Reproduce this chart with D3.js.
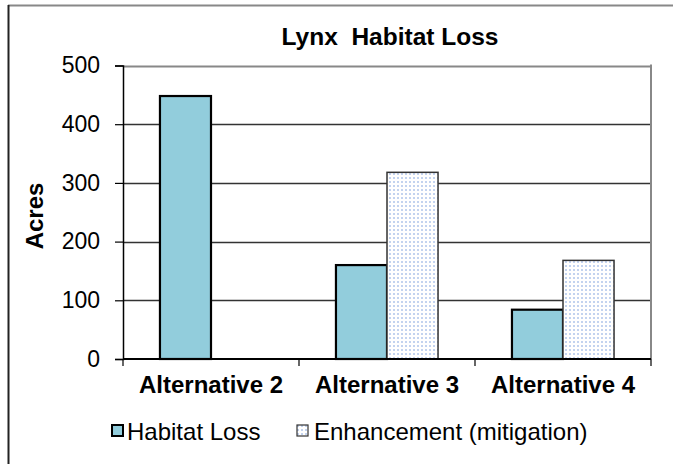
<!DOCTYPE html>
<html><head><meta charset="utf-8">
<script src="https://cdn.jsdelivr.net/npm/d3@7"></script>
<style>body{margin:0;background:#fff}svg{display:block;font-family:Arial,"Liberation Sans",sans-serif}</style>
</head><body><svg id="c" width="673" height="464"></svg>
<script>
const categories = ["Alternative 2", "Alternative 3", "Alternative 4"];
const seriesNames = ["Habitat Loss", "Enhancement (mitigation)"];
const habitatLoss = [448, 160, 84];
const enhancement = [null, 318, 168];
const yTicks = [0, 100, 200, 300, 400, 500];

const svg = d3.select("#c");
const W = 673, H = 464;
const m = {left: 123, right: 651, top: 65.5, bottom: 359};

// outer frame (cropped: top + left only)
svg.append("line").attr("x1", 8).attr("x2", W).attr("y1", 5.5).attr("y2", 5.5).attr("stroke", "#888").attr("stroke-width", 2);
svg.append("line").attr("x1", 8.5).attr("x2", 8.5).attr("y1", 5).attr("y2", H).attr("stroke", "#222").attr("stroke-width", 2);

const defs = svg.append("defs");
const pat = defs.append("pattern").attr("id", "dots").attr("patternUnits", "userSpaceOnUse").attr("width", 4).attr("height", 4);
pat.append("rect").attr("width", 4).attr("height", 4).attr("fill", "#fff");
pat.append("rect").attr("x", 1).attr("y", 1).attr("width", 2).attr("height", 2).attr("fill", "#c3d3ef");

const x0 = d3.scaleBand().domain(categories).range([m.left, m.right]).paddingInner(0.42).paddingOuter(0.21);
const x1 = d3.scaleBand().domain(seriesNames).range([0, x0.bandwidth()]);
const y = d3.scaleLinear().domain([0, 500]).range([m.bottom, m.top]);

// gridlines
svg.append("g").selectAll("line").data(yTicks.filter(d => d > 0)).join("line")
  .attr("x1", m.left).attr("x2", m.right)
  .attr("y1", d => Math.round(y(d)) + 0.5).attr("y2", d => Math.round(y(d)) + 0.5)
  .attr("stroke", d => d === 500 ? "#888" : "#333").attr("stroke-width", d => d === 500 ? 2 : 1.5);
// right plot border
svg.append("line").attr("x1", m.right).attr("x2", m.right).attr("y1", m.top - 1).attr("y2", m.bottom)
  .attr("stroke", "#888").attr("stroke-width", 2);

// bars
const data = [];
categories.forEach((c, i) => {
  data.push({c, s: seriesNames[0], v: habitatLoss[i]});
  if (enhancement[i] != null) data.push({c, s: seriesNames[1], v: enhancement[i]});
});
svg.append("g").selectAll("rect").data(data).join("rect")
  .attr("x", d => x0(d.c) + x1(d.s))
  .attr("y", d => y(d.v))
  .attr("width", x1.bandwidth())
  .attr("height", d => y(0) - y(d.v))
  .attr("fill", d => d.s === seriesNames[0] ? "#92cddc" : "url(#dots)")
  .attr("stroke", d => d.s === seriesNames[0] ? "#000" : "#333")
  .attr("stroke-width", d => d.s === seriesNames[0] ? 2.2 : 1.5);

// y axis
const yAxis = svg.append("g").attr("transform", `translate(${m.left},0)`)
  .call(d3.axisLeft(y).tickValues(yTicks).tickSize(8).tickPadding(15));
yAxis.select(".domain").attr("stroke", "#000").attr("stroke-width", 1.5);
yAxis.selectAll(".tick line").attr("stroke", "#000").attr("stroke-width", 1.2);
yAxis.selectAll("text").attr("font-size", 23).attr("fill", "#000").attr("font-family", "Arial, 'Liberation Sans', sans-serif");

// x axis
const xAxis = svg.append("g").attr("transform", `translate(0,${m.bottom})`);
xAxis.append("line").attr("x1", m.left).attr("x2", m.right).attr("stroke", "#000").attr("stroke-width", 2);
const bounds = [m.left].concat(categories.map(c => x0(c) + x0.bandwidth() + x0.step() * x0.paddingInner() / 2));
xAxis.selectAll(".tk").data(bounds).join("line").attr("class", "tk")
  .attr("x1", d => d).attr("x2", d => d).attr("y1", 0).attr("y2", 7).attr("stroke", "#000").attr("stroke-width", 1.2);
xAxis.selectAll(".lbl").data(categories).join("text").attr("class", "lbl")
  .attr("x", d => x0(d) + x0.bandwidth() / 2).attr("y", 34)
  .attr("text-anchor", "middle").attr("font-weight", "bold").attr("font-size", 24).text(d => d);

// title
svg.append("text").attr("x", 390).attr("y", 45).attr("text-anchor", "middle")
  .attr("font-weight", "bold").attr("font-size", 24.5).text("Lynx  Habitat Loss").attr("xml:space", "preserve").style("white-space", "pre");

// y title
svg.append("text").attr("transform", "translate(43,216) rotate(-90)").attr("text-anchor", "middle")
  .attr("font-weight", "bold").attr("font-size", 24).text("Acres");

// legend
const leg = [{s: seriesNames[0], sx: 112, tx: 127}, {s: seriesNames[1], sx: 297, tx: 314}];
const lg = svg.append("g");
lg.selectAll("rect").data(leg).join("rect")
  .attr("x", d => d.sx).attr("y", 425).attr("width", 11).attr("height", 11)
  .attr("fill", d => d.s === seriesNames[0] ? "#92cddc" : "url(#dots)")
  .attr("stroke", d => d.s === seriesNames[0] ? "#000" : "#333").attr("stroke-width", d => d.s === seriesNames[0] ? 2 : 1.2);
lg.selectAll("text").data(leg).join("text")
  .attr("x", d => d.tx).attr("y", 440).attr("font-size", 24).text(d => d.s);
</script></body></html>
